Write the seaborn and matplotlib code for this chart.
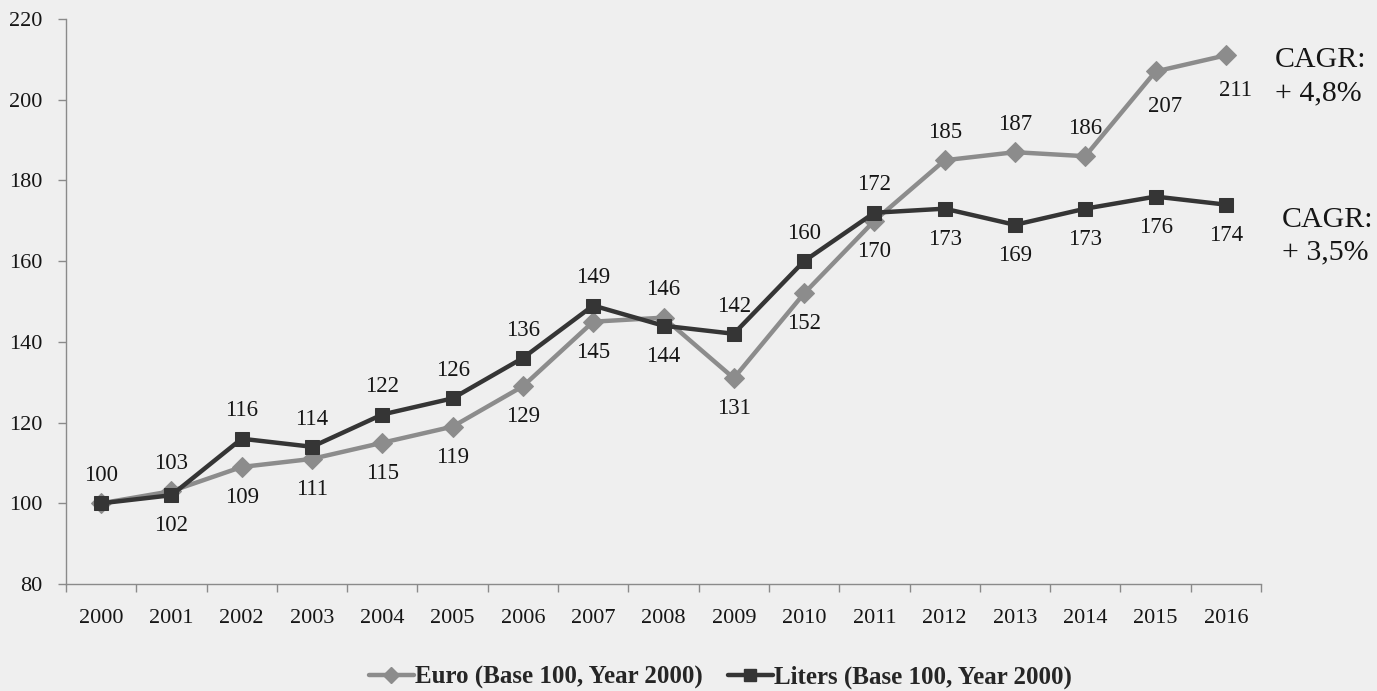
import numpy as np
import pandas as pd
import seaborn as sns
import matplotlib.pyplot as plt
from matplotlib.lines import Line2D
from matplotlib.transforms import IdentityTransform

years = [str(y) for y in range(2000, 2017)]
euro = [100, 103, 109, 111, 115, 119, 129, 145, 146, 131, 152, 170, 185, 187, 186, 207, 211]
liters = [100, 102, 116, 114, 122, 126, 136, 149, 144, 142, 160, 172, 173, 169, 173, 176, 174]
# "a" = above the marker, "b" = below, "br" = below-right, "" = no label (shared start point)
euro_label_pos = ["", "a", "b", "b", "b", "b", "b", "b", "a", "b", "b", "b", "a", "a", "a", "br", "br"]
liters_label_pos = ["a", "b", "a", "a", "a", "a", "a", "a", "b", "a", "a", "a", "b", "b", "b", "b", "b"]
euro_name = "Euro (Base 100, Year 2000)"
liters_name = "Liters (Base 100, Year 2000)"
cagr_euro = ["CAGR:", "+ 4,8%"]
cagr_liters = ["CAGR:", "+ 3,5%"]

sns.set_style("ticks")
plt.rcParams["font.family"] = ["Liberation Serif", "DejaVu Serif"]

BG = "#efefef"
EURO_C = "#8c8c8c"
LIT_C = "#353535"
AX_C = "#8a8a8a"
TXT_C = "#161616"
W, H = 1377, 691

fig = plt.figure(figsize=(W / 100, H / 100), dpi=100, facecolor=BG)
ax = fig.add_axes([66 / W, 1 - 584 / H, (1261 - 66) / W, (584 - 19) / H])
ax.set_facecolor(BG)

idx = np.arange(len(years))
df = pd.DataFrame({"pos": np.concatenate([idx, idx]),
                   "value": euro + liters,
                   "series": [euro_name] * len(years) + [liters_name] * len(years)})

sns.lineplot(data=df[df.series == euro_name], x="pos", y="value", ax=ax,
             color=EURO_C, lw=3.2, marker="D", markersize=10, markeredgecolor=EURO_C,
             legend=False, zorder=3)
sns.lineplot(data=df[df.series == liters_name], x="pos", y="value", ax=ax,
             color=LIT_C, lw=3.2, marker="s", markersize=10, markeredgecolor=LIT_C,
             legend=False, zorder=4)

# value labels above or below each marker
offsets = {"a": (0, 20), "b": (0, -22), "br": (7, -25)}
for vals, posl in ((euro, euro_label_pos), (liters, liters_label_pos)):
    for i, (v, p) in enumerate(zip(vals, posl)):
        if not p:
            continue
        ax.annotate(str(v), (i, v), xytext=offsets[p], textcoords="offset points",
                    ha="center", va="center", fontsize=16.5, color=TXT_C)

ax.set_xlim(-0.5, len(years) - 0.5)
ax.set_ylim(80, 220)
ax.set_yticks(np.arange(80, 221, 20))
ax.set_xticks(idx)
ax.set_xticklabels(years)
ax.set_xticks(np.arange(-0.5, len(years), 1), minor=True)
ax.tick_params(axis="x", which="major", length=0, pad=18, labelsize=16, labelcolor=TXT_C)
ax.tick_params(axis="x", which="minor", length=6, width=1, color=AX_C, direction="out")
ax.tick_params(axis="y", length=6, width=1, color=AX_C, pad=11, labelsize=16, labelcolor=TXT_C)
ax.set_xlabel("")
ax.set_ylabel("")
sns.despine(ax=ax)
for s in ("left", "bottom"):
    ax.spines[s].set_color(AX_C)
    ax.spines[s].set_linewidth(1)

# CAGR notes at the right (pixel baselines, origin top-left)
for lines, x0, baselines in ((cagr_euro, 1275, (67, 100)), (cagr_liters, 1282, (227, 259))):
    for txt, yb in zip(lines, baselines):
        fig.text(x0, H - yb, txt, transform=IdentityTransform(), ha="left",
                 va="baseline", fontsize=21.5, color=TXT_C)

handles = [Line2D([], [], color=EURO_C, lw=3.2, marker="D", markersize=8),
           Line2D([], [], color=LIT_C, lw=3.2, marker="s", markersize=8)]
fig.legend(handles, [euro_name, liters_name], loc="center",
           bbox_to_anchor=(0.523, 1 - 677 / H), ncol=2, frameon=False,
           prop={"size": 18, "weight": "bold"}, handlelength=1.8,
           handletextpad=0.05, columnspacing=1.0)

fig.savefig("out.png", dpi=100, facecolor=BG)
